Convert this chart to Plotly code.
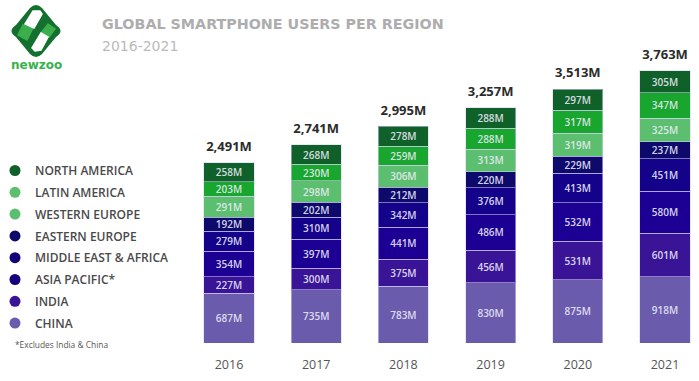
import plotly.graph_objects as go

W, H = 699, 381
years = ["2016", "2017", "2018", "2019", "2020", "2021"]
totals = [2491, 2741, 2995, 3257, 3513, 3763]
china = [687, 735, 783, 830, 875, 918]
india = [227, 300, 375, 456, 531, 601]
asia_pacific = [354, 397, 441, 486, 532, 580]
mea = [279, 310, 342, 376, 413, 451]
eastern_europe = [192, 202, 212, 220, 229, 237]
western_europe = [291, 298, 306, 313, 319, 325]
latin_america = [203, 230, 259, 288, 317, 347]
north_america = [258, 268, 278, 288, 297, 305]

series = [
    ("CHINA", china, "#6a5bad", "#6a5bad"),
    ("INDIA", india, "#3a1496", "#3a1496"),
    ("ASIA PACIFIC*", asia_pacific, "#1c0094", "#14027e"),
    ("MIDDLE EAST & AFRICA", mea, "#14028a", "#12027a"),
    ("EASTERN EUROPE", eastern_europe, "#0d0a6c", "#0d0a6c"),
    ("WESTERN EUROPE", western_europe, "#5cbf6f", "#5cbf6f"),
    ("LATIN AMERICA", latin_america, "#18a62e", "#5cbf6f"),
    ("NORTH AMERICA", north_america, "#10602a", "#10602a"),
]

FONT = "Open Sans"
fig = go.Figure()
for name, vals, col, _ in series:
    fig.add_trace(go.Bar(
        x=years, y=vals, name=name, showlegend=False, width=0.575,
        marker=dict(color=col, line=dict(color="rgba(215,210,245,0.55)", width=1)),
        text=[f"{v}M" for v in vals], textposition="inside", insidetextanchor="middle",
        textangle=0, constraintext="none",
        textfont=dict(family=FONT, size=10, color="rgba(235,235,248,0.9)", weight=600),
    ))
fig.add_trace(go.Scatter(
    x=years, y=totals, mode="text+markers", showlegend=False,
    marker=dict(size=12, opacity=0),
    text=[f"{t:,}M" for t in totals], textposition="top center",
    textfont=dict(family=FONT, size=13, color="#2b2b2b", weight=700),
))
for name, vals, _, legend_col in reversed(series):
    fig.add_trace(go.Scatter(
        x=[None], y=[None], mode="markers", name=name, legendgroup=name,
        marker=dict(color=legend_col, size=11),
    ))

def path(pts):
    d = ""
    for c, *xy in pts:
        if xy:
            d += f"{c} " + " ".join(f"{v/W:.5f},{1-u/H:.5f}" for v, u in zip(xy[0::2], xy[1::2])) + " "
        else:
            d += c + " "
    return d

def poly(points, color, width=1.5):
    p = [("M", *points[0])] + [("L", *q) for q in points[1:]] + [("Z",)]
    return dict(type="path", xref="paper", yref="paper", path=path(p), fillcolor=color,
                line=dict(color=color, width=width), layer="above")

diamond = [("M", 30, 8), ("Q", 36, 2, 42, 8), ("L", 56, 25), ("Q", 65, 31, 56, 37),
           ("L", 42, 54), ("Q", 36, 60, 30, 54), ("L", 16, 37), ("Q", 7, 31, 16, 25), ("Z",)]
shapes = [
    dict(type="path", xref="paper", yref="paper", path=path(diamond), fillcolor="#13702e",
         line=dict(color="#13702e", width=0), layer="above"),
    poly([(23, 25), (33, 28), (27, 40), (18, 35)], "#3cae4c"),
    poly([(48, 24), (55, 29), (49, 37), (41, 33)], "#3cae4c"),
    poly([(33, 11), (40, 11), (42, 14), (34, 28), (25, 24)], "#ffffff"),
    poly([(41, 33), (48, 37), (41, 50), (35, 51), (32, 48)], "#ffffff"),
]

fig.update_layout(
    width=W, height=H, margin=dict(l=0, r=0, t=0, b=0, autoexpand=False), autosize=False,
    paper_bgcolor="white", plot_bgcolor="white", barmode="stack", shapes=shapes,
    xaxis=dict(type="category", categoryorder="array", categoryarray=years,
               domain=[185.4/W, 1], range=[-0.5, 5.39], showgrid=False, zeroline=False,
               showline=False, ticks="outside", ticklen=10, tickcolor="rgba(0,0,0,0)",
               tickfont=dict(family=FONT, size=12.5, color="#555555")),
    yaxis=dict(domain=[(H-343)/H, 1], range=[0, 343/0.0723], visible=False),
    legend=dict(x=-5/W, y=1-156/H, xanchor="left", yanchor="top", traceorder="grouped",
                tracegroupgap=2.8, bgcolor="rgba(0,0,0,0)",
                font=dict(family=FONT, size=12, color="#4a4a4a", weight=600),
                itemclick=False, itemdoubleclick=False),
    annotations=[
        dict(text="GLOBAL SMARTPHONE USERS PER REGION", xref="paper", yref="paper",
             x=100/W, y=1-24/H, xanchor="left", yanchor="middle", showarrow=False,
             font=dict(family="DejaVu Sans", size=14.3, color="#adadad", weight=600)),
        dict(text="2016-2021", xref="paper", yref="paper",
             x=100/W, y=1-46/H, xanchor="left", yanchor="middle", showarrow=False,
             font=dict(family="DejaVu Sans", size=14, color="#bbbbbb")),
        dict(text="newzoo", xref="paper", yref="paper",
             x=36/W, y=1-65/H, xanchor="center", yanchor="middle", showarrow=False,
             font=dict(family="DejaVu Sans", size=12, color="#36b34a", weight=700)),
        dict(text="*Excludes India & China", xref="paper", yref="paper",
             x=13/W, y=1-344/H, xanchor="left", yanchor="middle", showarrow=False,
             font=dict(family=FONT, size=8.4, color="#555555")),
    ],
)
fig.write_html("out.html", config=dict(displayModeBar=False),
               post_script="document.body.style.margin='0';")
